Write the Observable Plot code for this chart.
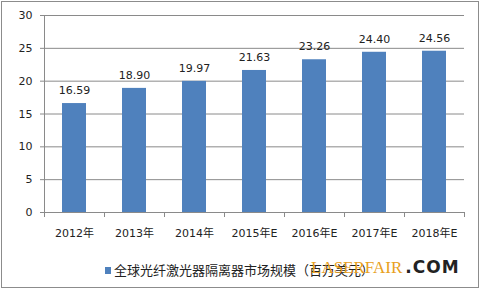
<!DOCTYPE html>
<html>
<head>
<meta charset="utf-8">
<script src="https://cdn.jsdelivr.net/npm/d3@7"></script>
<script src="https://cdn.jsdelivr.net/npm/@observablehq/plot@0.6"></script>
<style>
  html, body { margin: 0; padding: 0; background: #fff; }
  #wrap { position: relative; width: 483px; height: 291px; overflow: hidden;
          font-family: "DejaVu Sans", "Noto Sans CJK SC", sans-serif; }
  #frame { position: absolute; left: 1px; top: 1px; width: 478px; height: 287px;
           border: 1px solid #8c8c8c; box-sizing: border-box; pointer-events: none; }
  #chart { position: absolute; left: 0; top: 0; }
  #legend { position: absolute; left: 105px; top: 260px; font-size: 13px; color: #222;
            font-family: "Noto Sans CJK SC", sans-serif; white-space: nowrap; }
  #legend .sw { display: inline-block; width: 6px; height: 7px; background: #4F81BD;
                margin-right: 3px; vertical-align: 1px; }
  #mark { position: absolute; left: 311px; top: 257px; white-space: nowrap; }
  #mark .a { font-family: "Liberation Serif", serif; color: #e8a020; font-size: 17px; }
  #mark .b { font-family: "DejaVu Sans", sans-serif; font-weight: bold; color: #222; font-size: 17px; margin-left: 3px; letter-spacing: 1px; }
</style>
</head>
<body>
<div id="wrap">
  <div id="chart"></div>
  <div id="legend"></div>
  <div id="mark"><span class="a">LASERFAIR</span><span class="b">.COM</span></div>
  <div id="frame"></div>
</div>
<script>
// Global fiber laser isolator market size (million USD), E = estimate
const years = ["2012年", "2013年", "2014年", "2015年E", "2016年E", "2017年E", "2018年E"];
const values = [16.59, 18.90, 19.97, 21.63, 23.26, 24.40, 24.56];
const yTicks = [0, 5, 10, 15, 20, 25, 30];
const seriesName = "全球光纤激光器隔离器市场规模（百万美元）";

const data = years.map((year, i) => ({year, value: values[i]}));

const W = 483, H = 250, ML = 44, MR = 19, MT = 15, MB = 38;
const halfStep = (W - ML - MR) / years.length / 2;
const gray = "#8a8a8a";

const chart = Plot.plot({
  width: W,
  height: H,
  marginLeft: ML,
  marginRight: MR,
  marginTop: MT,
  marginBottom: MB,
  style: {fontFamily: "DejaVu Sans, Noto Sans CJK SC, sans-serif", fontSize: "11px", color: "#222", background: "transparent"},
  x: {domain: years, paddingInner: 0.6, paddingOuter: 0.3, label: null},
  y: {domain: [0, 30], ticks: yTicks, label: null},
  marks: [
    // horizontal gridlines, with short ticks running left of the axis
    Plot.ruleY(yTicks, {stroke: gray, strokeWidth: 1, insetLeft: -4}),
    // vertical axis line
    Plot.ruleX([years[0]], {dx: -halfStep, y1: 0, y2: 30, stroke: gray}),
    // category boundary ticks below the baseline
    Plot.ruleX(years, {dx: -halfStep, y1: 0, y2: 0, insetBottom: -5, stroke: gray}),
    Plot.ruleX([years[years.length - 1]], {dx: halfStep, y1: 0, y2: 0, insetBottom: -5, stroke: gray}),
    Plot.barY(data, {x: "year", y: "value", fill: "#4F81BD"}),
    Plot.text(data, {x: "year", y: "value", text: d => d.value.toFixed(2), dy: -13, fontSize: 11, fill: "#222"}),
    Plot.axisY({ticks: yTicks, tickSize: 0, tickPadding: 12, fontSize: 11, fill: "#222"}),
    Plot.axisX({tickSize: 0, tickPadding: 17, fontSize: 11, fill: "#222"})
  ]
});
document.getElementById("chart").appendChild(chart);

const legend = document.getElementById("legend");
legend.innerHTML = '<span class="sw"></span>' + seriesName;
</script>
</body>
</html>
